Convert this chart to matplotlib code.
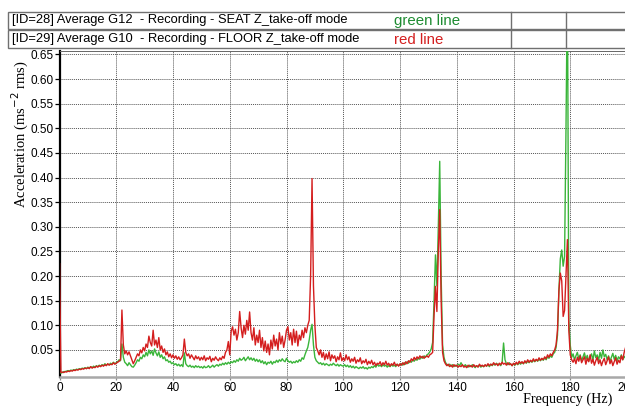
import numpy as np
import matplotlib
matplotlib.use("Agg")
import matplotlib.pyplot as plt
from matplotlib.patches import Rectangle

# ---------------- data (0.5 Hz resolution) ----------------
freq_step = 0.5
seat_green = [
    # 0-10 Hz
    0.004, 0.003, 0.004, 0.006, 0.006, 0.007, 0.008, 0.007, 0.009, 0.008, 0.010, 0.009, 0.011, 0.010, 0.012, 0.011, 0.013, 0.012, 0.014, 0.012,
    # 10-20
    0.015, 0.013, 0.016, 0.014, 0.017, 0.015, 0.018, 0.016, 0.019, 0.017, 0.020, 0.018, 0.022, 0.019, 0.021, 0.020, 0.023, 0.021, 0.025, 0.022,
    # 20-30
    0.024, 0.026, 0.030, 0.028, 0.062, 0.035, 0.025, 0.022, 0.018, 0.024, 0.020, 0.016, 0.015, 0.019, 0.024, 0.030, 0.027, 0.035, 0.032, 0.040,
    # 30-40
    0.036, 0.045, 0.038, 0.050, 0.042, 0.048, 0.039, 0.052, 0.044, 0.038, 0.046, 0.035, 0.040, 0.032, 0.036, 0.028, 0.030, 0.025, 0.027, 0.022,
    # 40-50
    0.024, 0.020, 0.022, 0.018, 0.021, 0.017, 0.020, 0.016, 0.044, 0.022, 0.018, 0.016, 0.019, 0.015, 0.017, 0.014, 0.018, 0.015, 0.017, 0.014,
    # 50-60
    0.016, 0.013, 0.017, 0.014, 0.015, 0.018, 0.014, 0.016, 0.019, 0.015, 0.018, 0.020, 0.017, 0.021, 0.019, 0.023, 0.020, 0.024, 0.021, 0.025,
    # 60-70
    0.022, 0.026, 0.024, 0.028, 0.025, 0.030, 0.027, 0.033, 0.029, 0.031, 0.035, 0.028, 0.032, 0.036, 0.030, 0.034, 0.029, 0.033, 0.027, 0.031,
    # 70-80
    0.026, 0.030, 0.024, 0.028, 0.022, 0.026, 0.020, 0.025, 0.023, 0.027, 0.021, 0.026, 0.024, 0.029, 0.025, 0.030, 0.027, 0.032, 0.028, 0.026,
    # 80-90
    0.033, 0.028, 0.025, 0.027, 0.023, 0.026, 0.024, 0.028, 0.025, 0.030, 0.027, 0.034, 0.031, 0.040, 0.048, 0.055, 0.070, 0.090, 0.102, 0.060,
    # 90-100
    0.035, 0.028, 0.025, 0.022, 0.024, 0.020, 0.023, 0.019, 0.022, 0.020, 0.018, 0.021, 0.019, 0.023, 0.020, 0.018, 0.021, 0.017, 0.020, 0.018,
    # 100-110
    0.017, 0.020, 0.016, 0.019, 0.015, 0.018, 0.014, 0.017, 0.013, 0.016, 0.014, 0.012, 0.015, 0.013, 0.016, 0.012, 0.014, 0.011, 0.015, 0.013,
    # 110-120
    0.016, 0.014, 0.018, 0.015, 0.021, 0.017, 0.019, 0.016, 0.020, 0.017, 0.019, 0.015, 0.018, 0.016, 0.020, 0.017, 0.019, 0.016, 0.021, 0.018,
    # 120-130
    0.020, 0.022, 0.019, 0.024, 0.021, 0.026, 0.023, 0.028, 0.025, 0.030, 0.027, 0.032, 0.029, 0.034, 0.031, 0.036, 0.033, 0.038, 0.035, 0.040,
    # 130-140
    0.042, 0.046, 0.052, 0.065, 0.150, 0.243, 0.180, 0.300, 0.433, 0.200, 0.060, 0.035, 0.025, 0.020, 0.018, 0.021, 0.017, 0.020, 0.016, 0.019,
    # 140-150
    0.017, 0.021, 0.018, 0.024, 0.019, 0.016, 0.020, 0.017, 0.015, 0.019, 0.016, 0.020, 0.017, 0.014, 0.018, 0.016, 0.019, 0.015, 0.018, 0.016,
    # 150-160
    0.019, 0.017, 0.020, 0.016, 0.021, 0.018, 0.022, 0.019, 0.023, 0.020, 0.021, 0.018, 0.025, 0.064, 0.030, 0.022, 0.020, 0.024, 0.021, 0.018,
    # 160-170
    0.022, 0.019, 0.023, 0.020, 0.024, 0.021, 0.025, 0.022, 0.026, 0.023, 0.027, 0.024, 0.028, 0.025, 0.029, 0.026, 0.030, 0.027, 0.031, 0.028,
    # 170-180
    0.032, 0.029, 0.034, 0.030, 0.036, 0.033, 0.038, 0.035, 0.042, 0.045, 0.055, 0.080, 0.170, 0.235, 0.253, 0.220, 0.240, 0.500, 0.800, 0.110,
    # 180-190
    0.060, 0.035, 0.042, 0.030, 0.038, 0.045, 0.032, 0.040, 0.028, 0.036, 0.044, 0.031, 0.039, 0.027, 0.035, 0.042, 0.030, 0.048, 0.034, 0.040,
    # 190-200
    0.029, 0.045, 0.033, 0.050, 0.036, 0.041, 0.030, 0.038, 0.027, 0.035, 0.043, 0.031, 0.039, 0.028, 0.036, 0.032, 0.040, 0.030, 0.037, 0.033,
]
floor_red = [
    # 0-10
    0.225, 0.004, 0.005, 0.004, 0.006, 0.005, 0.007, 0.006, 0.008, 0.007, 0.009, 0.008, 0.010, 0.009, 0.011, 0.010, 0.012, 0.011, 0.013, 0.012,
    # 10-20
    0.014, 0.012, 0.016, 0.013, 0.015, 0.014, 0.017, 0.015, 0.018, 0.016, 0.019, 0.017, 0.020, 0.018, 0.022, 0.019, 0.021, 0.020, 0.024, 0.021,
    # 20-30
    0.023, 0.025, 0.027, 0.030, 0.131, 0.060, 0.042, 0.048, 0.040, 0.046, 0.038, 0.030, 0.022, 0.028, 0.035, 0.042, 0.038, 0.050, 0.044, 0.055,
    # 30-40
    0.048, 0.062, 0.055, 0.078, 0.065, 0.058, 0.090, 0.060, 0.070, 0.055, 0.075, 0.050, 0.058, 0.045, 0.052, 0.040, 0.046, 0.036, 0.042, 0.034,
    # 40-50
    0.040, 0.033, 0.038, 0.031, 0.036, 0.030, 0.034, 0.040, 0.072, 0.045, 0.038, 0.042, 0.033, 0.040, 0.035, 0.030, 0.038, 0.032, 0.036, 0.029,
    # 50-60
    0.035, 0.030, 0.038, 0.028, 0.034, 0.031, 0.037, 0.026, 0.033, 0.029, 0.036, 0.031, 0.028, 0.034, 0.030, 0.037, 0.033, 0.045, 0.050, 0.067,
    # 60-70
    0.040, 0.088, 0.097, 0.080, 0.092, 0.070, 0.085, 0.128, 0.095, 0.075, 0.100, 0.082, 0.110, 0.090, 0.127, 0.085, 0.070, 0.095, 0.060, 0.080,
    # 70-80
    0.065, 0.090, 0.055, 0.075, 0.048, 0.068, 0.045, 0.062, 0.040, 0.070, 0.052, 0.080, 0.058, 0.072, 0.050, 0.085, 0.062, 0.078, 0.055, 0.070,
    # 80-90
    0.090, 0.097, 0.070, 0.085, 0.060, 0.092, 0.065, 0.088, 0.058, 0.080, 0.070, 0.090, 0.075, 0.095, 0.085, 0.100, 0.110, 0.200, 0.398, 0.180,
    # 90-100
    0.100, 0.055, 0.048, 0.040, 0.050, 0.035, 0.045, 0.030, 0.042, 0.032, 0.046, 0.028, 0.040, 0.033, 0.038, 0.026, 0.036, 0.030, 0.044, 0.028,
    # 100-110
    0.034, 0.028, 0.040, 0.030, 0.036, 0.025, 0.032, 0.027, 0.035, 0.023, 0.030, 0.026, 0.034, 0.022, 0.028, 0.024, 0.031, 0.020, 0.027, 0.022,
    # 110-120
    0.029, 0.020, 0.025, 0.018, 0.023, 0.021, 0.026, 0.018, 0.024, 0.020, 0.027, 0.019, 0.023, 0.017, 0.022, 0.019, 0.025, 0.018, 0.021, 0.017,
    # 120-130
    0.022, 0.019, 0.024, 0.020, 0.026, 0.022, 0.028, 0.025, 0.032, 0.028, 0.035, 0.030, 0.036, 0.032, 0.038, 0.034, 0.037, 0.033, 0.036, 0.038,
    # 130-140
    0.035, 0.040, 0.042, 0.045, 0.120, 0.179, 0.128, 0.250, 0.335, 0.150, 0.045, 0.028, 0.022, 0.018, 0.021, 0.016, 0.019, 0.015, 0.020, 0.017,
    # 140-150
    0.019, 0.015, 0.018, 0.016, 0.020, 0.015, 0.017, 0.014, 0.019, 0.016, 0.018, 0.015, 0.020, 0.016, 0.018, 0.015, 0.021, 0.017, 0.019, 0.016,
    # 150-160
    0.020, 0.017, 0.022, 0.018, 0.021, 0.019, 0.024, 0.020, 0.022, 0.018, 0.023, 0.020, 0.025, 0.021, 0.023, 0.019, 0.024, 0.020, 0.022, 0.018,
    # 160-170
    0.023, 0.020, 0.025, 0.021, 0.027, 0.023, 0.026, 0.022, 0.028, 0.024, 0.030, 0.025, 0.029, 0.026, 0.032, 0.027, 0.031, 0.028, 0.034, 0.029,
    # 170-180
    0.033, 0.030, 0.036, 0.032, 0.040, 0.035, 0.042, 0.038, 0.045, 0.050, 0.060, 0.090, 0.170, 0.206, 0.190, 0.118, 0.130, 0.200, 0.274, 0.090,
    # 180-190
    0.040, 0.030, 0.025, 0.032, 0.022, 0.035, 0.027, 0.038, 0.024, 0.030, 0.036, 0.021, 0.033, 0.026, 0.040, 0.023, 0.031, 0.019, 0.028, 0.035,
    # 190-200
    0.022, 0.030, 0.018, 0.027, 0.033, 0.020, 0.028, 0.036, 0.022, 0.030, 0.018, 0.026, 0.034, 0.021, 0.029, 0.024, 0.038, 0.030, 0.045, 0.055,
]
x_ticks = [0, 20, 40, 60, 80, 100, 120, 140, 160, 180, 200]
y_ticks = [0.05, 0.10, 0.15, 0.20, 0.25, 0.30, 0.35, 0.40, 0.45, 0.50, 0.55, 0.60, 0.65]
y_tick_labels = ["0.05", "0.10", "0.15", "0.20", "0.25", "0.30", "0.35", "0.40", "0.45", "0.50", "0.55", "0.60", "0.65"]
header_rows = ["[ID=28] Average G12  - Recording - SEAT Z_take-off mode",
               "[ID=29] Average G10  - Recording - FLOOR Z_take-off mode"]
header_notes = ["green line", "red line"]

freq = np.arange(len(seat_green)) * freq_step

# ---------------- figure ----------------
W, H = 625, 407
fig = plt.figure(figsize=(W / 100, H / 100), dpi=100)
fig.patch.set_facecolor("white")

def fx(px):
    return px / W

def fy(py):
    return 1 - py / H

ax_left, ax_right, ax_top, ax_bot = 59.5, 627.0, 51.5, 377.0
ax = fig.add_axes([fx(ax_left), fy(ax_bot), fx(ax_right - ax_left), (ax_bot - ax_top) / H])
ax.set_xlim(0, 200)
ax.set_ylim(-0.005, 0.656)

GREEN = "#3ab53a"
RED = "#d41e1e"
ax.plot(freq, seat_green, color=GREEN, lw=1.0, zorder=3)
ax.plot(freq, floor_red, color=RED, lw=1.0, zorder=4)

ax.set_xticks(x_ticks)
ax.set_yticks(y_ticks)
ax.set_yticklabels(y_tick_labels)
for lab in ax.get_xticklabels() + ax.get_yticklabels():
    lab.set_fontfamily(["Liberation Sans", "DejaVu Sans"])
    lab.set_fontsize(8.5)
ax.tick_params(axis="y", length=3.5, width=0.9, pad=1, color="black")
ax.tick_params(axis="x", length=2, width=0.9, pad=1.5, color="#888888")

ax.grid(True, color="#555555", linestyle=(0, (1, 1)), lw=0.7)
ax.set_axisbelow(True)

ax.spines["left"].set_color("black")
ax.spines["left"].set_linewidth(1.6)
ax.spines["bottom"].set_color("#a8a8a8")
ax.spines["bottom"].set_linewidth(1.8)
ax.spines["right"].set_visible(False)
ax.spines["top"].set_color("#666666")
ax.spines["top"].set_linestyle((0, (1, 1)))
ax.spines["top"].set_linewidth(0.7)

# axis titles (serif, placed like the reference)
fig.text(fx(20), fy(134), "Acceleration (ms$^{-2}$ rms)", rotation=90,
         ha="center", va="center", fontsize=10.5, family=["Liberation Serif", "DejaVu Serif"])
fig.text(fx(568), fy(406.5), "Frequency (Hz)", ha="center", va="bottom",
         fontsize=10.2, family=["Liberation Serif", "DejaVu Serif"])

# ---------------- header boxes ----------------
rows_y = [(11.5, 28.5), (30.0, 48.0)]
edge = "#707070"
for (y0, y1), txt, note, col in zip(rows_y, header_rows, header_notes, [GREEN, RED]):
    fig.add_artist(Rectangle((fx(8), fy(y1)), fx(640 - 8), (y1 - y0) / H,
                             transform=fig.transFigure, facecolor="white",
                             edgecolor=edge, lw=1.0))
    for xv in (511, 566):
        fig.add_artist(plt.Line2D([fx(xv), fx(xv)], [fy(y1), fy(y0)],
                                  transform=fig.transFigure, color=edge, lw=1.0))
    yc = (y0 + y1) / 2
    fig.text(fx(12), fy(yc), txt, ha="left", va="center", fontsize=9.3,
             family=["Liberation Sans", "DejaVu Sans"], color="black")
    fig.text(fx(394), fy(yc + 0.5), note, ha="left", va="center", fontsize=10.8,
             family=["Liberation Sans", "DejaVu Sans"],
             color="#1e8c32" if col == GREEN else "#d42020")

fig.savefig("out.png", dpi=100, facecolor="white")
